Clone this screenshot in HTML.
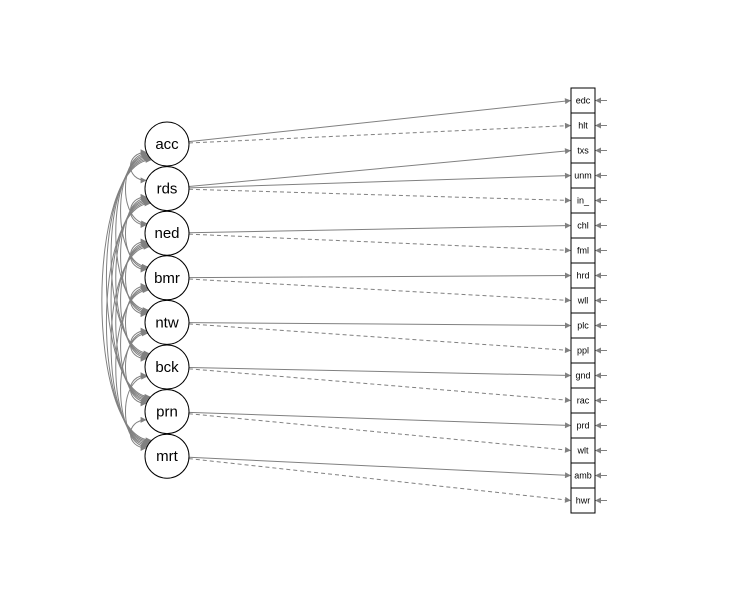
<!DOCTYPE html>
<html><head><meta charset="utf-8"><style>body{margin:0;background:#fff}svg{display:block}</style></head>
<body>
<svg id="c" width="750" height="600" xmlns="http://www.w3.org/2000/svg">
<defs>
<marker id="ah" viewBox="0 0 10 10" refX="10" refY="5" markerWidth="9" markerHeight="6" orient="auto-start-reverse" markerUnits="userSpaceOnUse"><path d="M0,0L10,5L0,10z" fill="#808080"/></marker>
</defs>
</svg>
<script>
const latents=["acc","rds","ned","bmr","ntw","bck","prn","mrt"];
const indicators=["edc","hlt","txs","unm","in_","chl","fml","hrd","wll","plc","ppl","gnd","rac","prd","wlt","amb","hwr"];
const loadFrom=[0,0,1,1,1,2,2,3,3,4,4,5,5,6,6,7,7];
const loadDashed=[0,1,0,0,1,0,1,0,1,0,1,0,1,0,1,0,1];
const svg=document.getElementById('c');const NS="http://www.w3.org/2000/svg";
const G="#808080";
function latY(i){return 144+i*44.6;}
function indY(k){return 100.5+k*25;}
const LX=167,R=22,BX=571,BW=24;
function mk(t,a,p){const e=document.createElementNS(NS,t);for(const k in a)e.setAttribute(k,a[k]);(p||svg).appendChild(e);return e;}
// covariances
for(let i=0;i<latents.length;i++)for(let j=i+1;j<latents.length;j++){
 const s=j-i,d=14+7.5*s;
 const off=(18+4*s)*Math.PI/180;
 const x1=LX-R*Math.cos(off),y1=latY(i)+R*Math.sin(off);
 const x2=LX-R*Math.cos(off),y2=latY(j)-R*Math.sin(off);
 const p=mk('path',{d:`M${x1},${y1}C${x1-d},${y1} ${x2-d},${y2} ${x2},${y2}`,fill:'none',stroke:G,'stroke-width':1,'marker-start':'url(#ah)','marker-end':'url(#ah)'});
 
 
}
// loadings
indicators.forEach((n,k)=>{
 const i=loadFrom[k],y0=latY(i),y1=indY(k);
 const ang=Math.atan2(y1-y0,BX-LX);
 const l=mk('line',{x1:LX+R*Math.cos(ang),y1:y0+R*Math.sin(ang),x2:BX,y2:y1,stroke:G,'stroke-width':1,'marker-end':'url(#ah)'});
 if(loadDashed[k])l.setAttribute('stroke-dasharray','4,3');
 
 
 const r=mk('line',{x1:607,y1:y1,x2:BX+BW,y2:y1,stroke:G,'stroke-width':1,'marker-end':'url(#ah)'});
 
 
 const b=mk('rect',{x:BX,y:y1-12.5,width:BW,height:25,fill:'#fff',stroke:'#000','stroke-width':1});
 
 
 const t=mk('text',{x:BX+BW/2,y:y1+3,'text-anchor':'middle','font-family':'Liberation Sans, sans-serif','font-size':9});
 t.textContent=n;
 
 
});
latents.forEach((n,i)=>{
 const c=mk('circle',{cx:LX,cy:latY(i),r:R,fill:'#fff',stroke:'#000','stroke-width':1});
 
 
 const t=mk('text',{x:LX,y:latY(i)+5,'text-anchor':'middle','font-family':'Liberation Sans, sans-serif','font-size':15});
 t.textContent=n;
 
 
});
</script>
</body></html>
